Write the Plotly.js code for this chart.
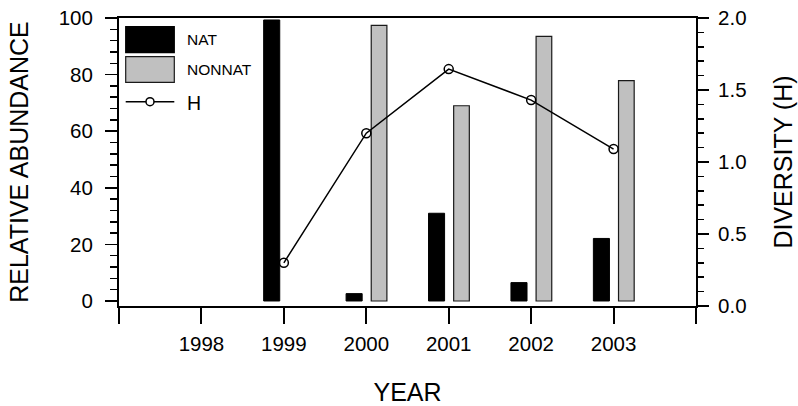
<!DOCTYPE html>
<html>
<head>
<meta charset="utf-8">
<script src="https://cdn.plot.ly/plotly-3.0.1.min.js"></script>
<style>html,body{margin:0;padding:0;background:#fff;}#chart{width:798px;height:406px;}</style>
</head>
<body>
<div id="chart"></div>
<script>
// ---- data ----
const years = [1999, 2000, 2001, 2002, 2003];
const natValues = [99.3, 2.6, 31.0, 6.5, 22.1];
const nonnatValues = [null, 97.4, 69.0, 93.5, 77.9];
const diversityH = [0.30, 1.20, 1.645, 1.43, 1.09];
const xTickValues = [1997, 1998, 1999, 2000, 2001, 2002, 2003, 2004];
const xTickLabels = ['', '1998', '1999', '2000', '2001', '2002', '2003', ''];

// ---- layout geometry (pixels) ----
const W = 798, H = 406;
const L = 119, R = 102, T = 18, B = 100;
const PW = W - L - R, PH = H - T - B;
const px = v => (v - L) / PW;
const py = v => (H - B - v) / PH;
const FONT = '"Liberation Sans", Arial, Helvetica, sans-serif';

const traces = [
  {
    type: 'bar', name: 'NAT', x: years, y: natValues,
    offset: -0.245, width: 0.195,
    marker: {color: '#000000', line: {color: '#000000', width: 1}},
    showlegend: false, yaxis: 'y'
  },
  {
    type: 'bar', name: 'NONNAT', x: years, y: nonnatValues,
    offset: 0.06, width: 0.19,
    marker: {color: '#c0c0c0', line: {color: '#1a1a1a', width: 1.2}},
    showlegend: false, yaxis: 'y'
  },
  {
    type: 'scatter', mode: 'lines+markers', name: 'H', x: years, y: diversityH,
    line: {color: '#000000', width: 1.5},
    marker: {symbol: 'circle-open', size: 9, color: '#000000', line: {width: 1.5, color: '#000000'}},
    showlegend: false, yaxis: 'y2'
  }
];

const shapes = [
  {type: 'rect', xref: 'paper', yref: 'paper', x0: px(125.7), x1: px(174.3), y0: py(52.7), y1: py(26.7),
   fillcolor: '#000000', line: {color: '#000000', width: 1.2}},
  {type: 'rect', xref: 'paper', yref: 'paper', x0: px(125.7), x1: px(174.3), y0: py(82.3), y1: py(56.7),
   fillcolor: '#c0c0c0', line: {color: '#1a1a1a', width: 1.2}},
  {type: 'line', xref: 'paper', yref: 'paper', x0: px(125.7), x1: px(174.3), y0: py(101.7), y1: py(101.7),
   line: {color: '#000000', width: 1.5}},
  {type: 'circle', xref: 'paper', yref: 'paper', x0: px(146), x1: px(154), y0: py(105.7), y1: py(97.7),
   fillcolor: '#ffffff', line: {color: '#000000', width: 1.5}}
];

const annotations = [
  {xref: 'paper', yref: 'paper', x: px(185), y: py(39.5), text: 'NAT', showarrow: false,
   xanchor: 'left', yanchor: 'middle', font: {family: FONT, size: 15.5, color: '#000'}},
  {xref: 'paper', yref: 'paper', x: px(185), y: py(69.5), text: 'NONNAT', showarrow: false,
   xanchor: 'left', yanchor: 'middle', font: {family: FONT, size: 15.5, color: '#000'}},
  {xref: 'paper', yref: 'paper', x: px(185), y: py(103), text: 'H', showarrow: false,
   xanchor: 'left', yanchor: 'middle', font: {family: FONT, size: 19.5, color: '#000'}}
];

const layout = {
  width: W, height: H,
  margin: {l: L, r: R, t: T, b: B, pad: 0},
  paper_bgcolor: '#ffffff', plot_bgcolor: '#ffffff',
  font: {family: FONT, size: 20, color: '#000000'},
  barmode: 'overlay',
  showlegend: false,
  xaxis: {
    range: [1997, 2004], tickmode: 'array', tickvals: xTickValues, ticktext: xTickLabels,
    showgrid: false, zeroline: false, showline: true, linecolor: '#000', linewidth: 2, mirror: true,
    ticks: 'outside', ticklen: 16, tickwidth: 2, tickcolor: '#000', ticklabelstandoff: 2,
    tickfont: {family: FONT, size: 20.5},
    title: {text: 'YEAR', font: {family: FONT, size: 25}, standoff: 34}
  },
  yaxis: {
    range: [-1.77, 100], tickmode: 'linear', tick0: 0, dtick: 20,
    showgrid: false, zeroline: false, showline: true, linecolor: '#000', linewidth: 2,
    ticks: 'outside', ticklen: 12, tickwidth: 1.5, tickcolor: '#000', ticklabelstandoff: 8,
    minor: {ticks: 'outside', ticklen: 7, tickwidth: 1.5, tickcolor: '#000', dtick: 4, tick0: 0, showgrid: false},
    tickfont: {family: FONT, size: 20.5},
    title: {text: 'RELATIVE ABUNDANCE', font: {family: FONT, size: 25}, standoff: 23}
  },
  yaxis2: {
    overlaying: 'y', side: 'right', range: [0, 2], tickmode: 'linear', tick0: 0, dtick: 0.5,
    tickformat: '.1f',
    showgrid: false, zeroline: false, showline: true, linecolor: '#000', linewidth: 2,
    ticks: 'outside', ticklen: 11, tickwidth: 1.5, tickcolor: '#000', ticklabelstandoff: 5,
    minor: {ticks: 'outside', ticklen: 6, tickwidth: 1.5, tickcolor: '#000', dtick: 0.1, tick0: 0, showgrid: false},
    tickfont: {family: FONT, size: 20.5},
    title: {text: 'DIVERSITY (H)', font: {family: FONT, size: 25}, standoff: 29}
  },
  shapes: shapes,
  annotations: annotations
};

Plotly.newPlot('chart', traces, layout, {staticPlot: true, displayModeBar: false});
</script>
</body>
</html>
